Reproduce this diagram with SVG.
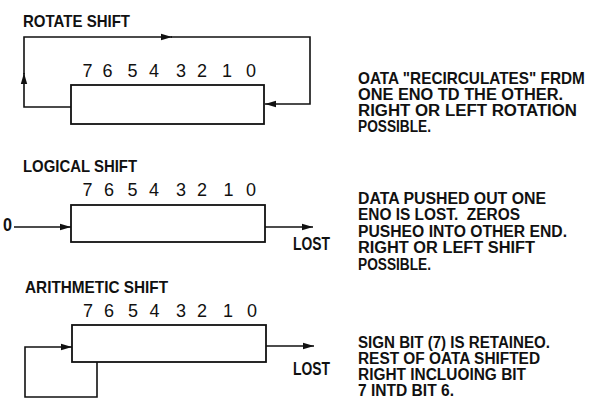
<svg xmlns="http://www.w3.org/2000/svg" width="589" height="413" viewBox="0 0 589 413">
  <style>
    .bg { fill: #ffffff; }
    .title { font-family: "Liberation Sans", Arial, sans-serif; font-weight: bold; font-size: 16.5px; fill: #111; }
    .bit { font-family: "Liberation Sans", Arial, sans-serif; font-size: 18px; fill: #111; text-anchor: middle; }
    .note { font-family: "Liberation Sans", Arial, sans-serif; font-weight: bold; font-size: 16px; fill: #111; white-space: pre; }
    .lbl { font-family: "Liberation Sans", Arial, sans-serif; font-weight: bold; font-size: 17.5px; fill: #111; }
    .reg { fill: none; stroke: #111; stroke-width: 1.8; }
    .wire { fill: none; stroke: #111; stroke-width: 1.6; }
  </style>
  <defs>
    <marker id="head" markerUnits="userSpaceOnUse" markerWidth="11" markerHeight="8" refX="11" refY="4" orient="auto">
      <path d="M0,0.8 L11,4 L0,7.2 z" fill="#111"/>
    </marker>
  </defs>

  <rect class="bg" x="0" y="0" width="589" height="413"/>

  <!-- Rotate shift -->
  <g id="rotate">
    <text class="title" x="23" y="27" textLength="107" lengthAdjust="spacingAndGlyphs">ROTATE SHIFT</text>
    <g class="bits">
      <text class="bit" x="87.5" y="77">7</text>
      <text class="bit" x="107.5" y="77">6</text>
      <text class="bit" x="132.5" y="77">5</text>
      <text class="bit" x="154" y="77">4</text>
      <text class="bit" x="181" y="77">3</text>
      <text class="bit" x="202" y="77">2</text>
      <text class="bit" x="227" y="77">1</text>
      <text class="bit" x="251" y="77">0</text>
    </g>
    <rect class="reg" x="71" y="85" width="193" height="39"/>
    <g class="note">
      <!-- longest line: narrowed so it stays inside the right edge -->
      <text class="note" transform="translate(358,84) scale(0.9,1)" x="0" y="0" textLength="252" lengthAdjust="spacingAndGlyphs">OATA "RECIRCULATES" FRDM</text>
      <text class="note" x="358" y="100" textLength="205" lengthAdjust="spacingAndGlyphs">ONE ENO TD THE OTHER.</text>
      <text class="note" x="358" y="116" textLength="219" lengthAdjust="spacingAndGlyphs">RIGHT OR LEFT ROTATION</text>
      <text class="note" x="358" y="132" textLength="73" lengthAdjust="spacingAndGlyphs">POSSIBLE.</text>
    </g>
  </g>

  <!-- Logical shift -->
  <g id="logical">
    <text class="title" x="23" y="172" textLength="114" lengthAdjust="spacingAndGlyphs">LOGICAL SHIFT</text>
    <g class="bits">
      <text class="bit" x="87.5" y="196">7</text>
      <text class="bit" x="109" y="196">6</text>
      <text class="bit" x="132.5" y="196">5</text>
      <text class="bit" x="154" y="196">4</text>
      <text class="bit" x="181" y="196">3</text>
      <text class="bit" x="202" y="196">2</text>
      <text class="bit" x="228.5" y="196">1</text>
      <text class="bit" x="251" y="196">0</text>
    </g>
    <rect class="reg" x="71" y="205" width="194" height="37"/>
    <text class="lbl" x="3" y="231" textLength="9" lengthAdjust="spacingAndGlyphs">0</text>
    <text class="lbl" x="293" y="250" textLength="37" lengthAdjust="spacingAndGlyphs">LOST</text>
    <g class="note">
      <text class="note" x="358" y="204" textLength="188" lengthAdjust="spacingAndGlyphs">DATA PUSHED OUT ONE</text>
      <text class="note" x="358" y="220" textLength="162" lengthAdjust="spacingAndGlyphs">ENO IS LOST.  ZEROS</text>
      <text class="note" x="358" y="236.5" textLength="209" lengthAdjust="spacingAndGlyphs">PUSHEO INTO OTHER END.</text>
      <text class="note" x="358" y="253" textLength="177" lengthAdjust="spacingAndGlyphs">RIGHT OR LEFT SHIFT</text>
      <text class="note" x="358" y="269.5" textLength="73" lengthAdjust="spacingAndGlyphs">POSSIBLE.</text>
    </g>
  </g>

  <!-- Arithmetic shift -->
  <g id="arithmetic">
    <text class="title" x="25" y="293" textLength="143" lengthAdjust="spacingAndGlyphs">ARITHMETIC SHIFT</text>
    <g class="bits">
      <text class="bit" x="88" y="317">7</text>
      <text class="bit" x="109" y="317">6</text>
      <text class="bit" x="133" y="317">5</text>
      <text class="bit" x="154.5" y="317">4</text>
      <text class="bit" x="181" y="317">3</text>
      <text class="bit" x="202" y="317">2</text>
      <text class="bit" x="228" y="317">1</text>
      <text class="bit" x="252" y="317">0</text>
    </g>
    <rect class="reg" x="72" y="325" width="194" height="37"/>
    <text class="lbl" x="293" y="375" textLength="37" lengthAdjust="spacingAndGlyphs">LOST</text>
    <g class="note">
      <text class="note" x="358" y="347.5" textLength="192" lengthAdjust="spacingAndGlyphs">SIGN BIT (7) IS RETAINEO.</text>
      <text class="note" x="358" y="363.5" textLength="182" lengthAdjust="spacingAndGlyphs">REST OF OATA SHIFTED</text>
      <text class="note" x="358" y="379.5" textLength="168" lengthAdjust="spacingAndGlyphs">RIGHT INCLUOING BIT</text>
      <text class="note" x="358" y="395.5" textLength="96" lengthAdjust="spacingAndGlyphs">7 INTD BIT 6.</text>
    </g>
  </g>

  <!-- Connectors -->
  <g id="connectors">
    <!-- rotate loop: out of bit 7 end, over the top, back into bit 0 end -->
    <path class="wire" d="M71,107 H24 V73" marker-end="url(#head)"/>
    <path class="wire" d="M24,74 V37 H172" marker-end="url(#head)"/>
    <path class="wire" d="M171,37 H310 V104 H265" marker-end="url(#head)"/>
    <!-- logical: zero in, bit out -->
    <path class="wire" d="M14,227 H71" marker-end="url(#head)"/>
    <path class="wire" d="M265,227 H313" marker-end="url(#head)"/>
    <!-- arithmetic: sign bit fed back, bit out -->
    <path class="wire" d="M97,362 V397 H25 V347 H72" marker-end="url(#head)"/>
    <path class="wire" d="M266,346 H314" marker-end="url(#head)"/>
  </g>
</svg>
